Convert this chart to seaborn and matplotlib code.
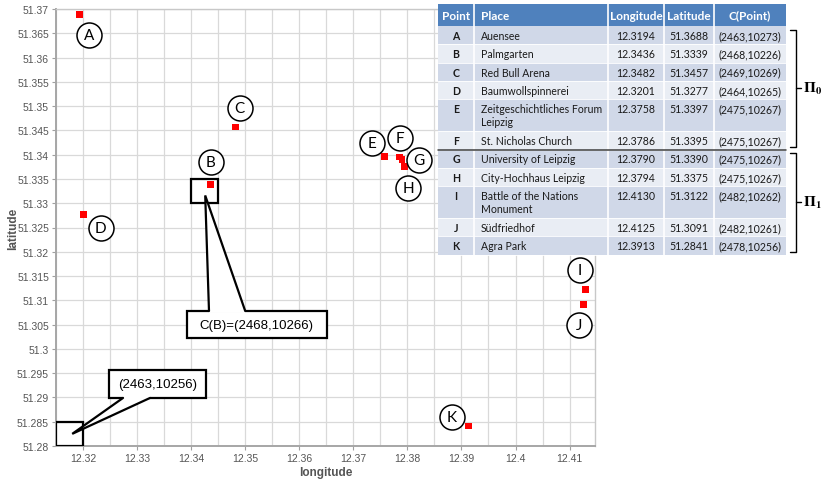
import numpy as np
import pandas as pd
import matplotlib
matplotlib.use("Agg")
import matplotlib.pyplot as plt
import matplotlib.transforms as mtransforms
from matplotlib.patches import Rectangle, Polygon
from matplotlib.ticker import MultipleLocator, FuncFormatter
import seaborn as sns

# ---------------------------------------------------------------- data
points = ["A", "B", "C", "D", "E", "F", "G", "H", "I", "J", "K"]
places = ["Auensee", "Palmgarten", "Red Bull Arena", "Baumwollspinnerei",
          "Zeitgeschichtliches Forum\nLeipzig", "St. Nicholas Church",
          "University of Leipzig", "City-Hochhaus Leipzig",
          "Battle of the Nations\nMonument", "Südfriedhof", "Agra Park"]
longitudes = [12.3194, 12.3436, 12.3482, 12.3201, 12.3758, 12.3786,
              12.3790, 12.3794, 12.4130, 12.4125, 12.3913]
latitudes = [51.3688, 51.3339, 51.3457, 51.3277, 51.3397, 51.3395,
             51.3390, 51.3375, 51.3122, 51.3091, 51.2841]
cell_x = [2463, 2468, 2469, 2464, 2475, 2475, 2475, 2475, 2482, 2482, 2478]
cell_y = [10273, 10226, 10269, 10265, 10267, 10267, 10267, 10267, 10262, 10261, 10256]
groups = ["0"] * 6 + ["1"] * 5
grid_step = 0.005

df = pd.DataFrame({"point": points, "place": places,
                   "longitude": longitudes, "latitude": latitudes,
                   "cx": cell_x, "cy": cell_y, "group": groups})

# ---------------------------------------------------------------- style
sns.set_theme(style="whitegrid")
plt.rcParams["font.family"] = ["Liberation Sans", "DejaVu Sans"]
plt.rcParams["mathtext.fontset"] = "stix"

fig = plt.figure(figsize=(8.21, 4.81), dpi=100)
W, H = 821, 481
ax = fig.add_axes([56 / W, 1 - 447 / H, (595 - 56) / W, (447 - 10) / H])

sns.scatterplot(data=df, x="longitude", y="latitude", marker="s", s=24,
                color="#ff0000", edgecolor="none", linewidth=0, ax=ax, zorder=6)

ax.set_xlim(12.315, 12.4147)
ax.set_ylim(51.28, 51.37)
ax.xaxis.set_major_locator(MultipleLocator(0.01))
ax.xaxis.set_minor_locator(MultipleLocator(grid_step))
ax.yaxis.set_major_locator(MultipleLocator(grid_step))
trim = FuncFormatter(lambda v, p: f"{v:.3f}".rstrip("0").rstrip("."))
ax.xaxis.set_major_formatter(trim)
ax.yaxis.set_major_formatter(trim)
ax.grid(True, which="both", color="#d9d9d9", lw=0.9)
ax.set_axisbelow(True)
ax.set_facecolor("white")
ax.tick_params(axis="both", which="major", labelsize=7.5, labelcolor="#555555",
               length=3, width=0.8, color="#a0a0a0", pad=2, left=True, bottom=True)
ax.tick_params(axis="x", which="minor", length=0)
for s in ("left", "bottom"):
    ax.spines[s].set_color("#a6a6a6")
    ax.spines[s].set_linewidth(1.4)
for s in ("top", "right"):
    ax.spines[s].set_color("#c8c8c8")
    ax.spines[s].set_linewidth(1.0)
ax.set_xlabel("longitude", fontsize=8.5, fontweight="bold", color="#555555", labelpad=2)
ax.set_ylabel("latitude", fontsize=8.5, fontweight="bold", color="#555555")
ax.yaxis.set_label_coords(-0.080, 0.5)
ax.yaxis.label.set_va("center")

# ---------------------------------------------------------------- letter circles
label_offsets = {"A": (6.5, -14.4), "B": (0, 15.8), "C": (2.9, 13.7),
                 "D": (12.2, -10), "E": (-9.4, 9.4), "F": (0, 13.7),
                 "G": (12.2, 0), "H": (2.9, -15.1), "I": (-4.3, 14.4),
                 "J": (-2.9, -14.4), "K": (-12.2, 6.5)}
for p, lon, lat in zip(points, longitudes, latitudes):
    dx, dy = label_offsets[p]
    tr = mtransforms.offset_copy(ax.transData, fig=fig, x=dx, y=dy, units="points")
    ax.plot([lon], [lat], marker="o", ms=18, mfc="white", mec="black",
            mew=1.1, transform=tr, zorder=7, clip_on=False)
    ax.text(lon, lat, p, transform=tr, ha="center", va="center",
            fontsize=11, family=["Lato", "DejaVu Sans"], color="black", zorder=8)


# ---------------------------------------------------------------- grid-cell callouts
def cell_of(lon, lat):
    return (int(np.floor(lon / grid_step + 1e-6)), int(np.floor(lat / grid_step + 1e-6)))


def callout(text, cell, box, base, tip):
    cx0, cy0 = cell[0] * grid_step, cell[1] * grid_step
    ax.add_patch(Rectangle((cx0, cy0), grid_step, grid_step, fill=False,
                           ec="black", lw=1.6, zorder=5))
    (bx0, bx1), (by0, by1) = box
    ax.add_patch(Rectangle((bx0, by0), bx1 - bx0, by1 - by0, fc="white",
                           ec="black", lw=1.6, zorder=9))
    edge_y = by1 if tip[1] > by1 else by0
    inner = 0.0004 if edge_y == by1 else -0.0004
    ax.add_patch(Polygon([(base[0], edge_y - inner), (base[0], edge_y), tip,
                          (base[1], edge_y), (base[1], edge_y - inner)],
                         closed=True, fc="white", ec="none", zorder=10))
    ax.plot([base[0], tip[0], base[1]], [edge_y, tip[1], edge_y],
            color="black", lw=1.6, zorder=11, solid_joinstyle="miter")
    ax.text((bx0 + bx1) / 2, (by0 + by1) / 2, text, ha="center", va="center",
            fontsize=9.5, color="black", zorder=12)


b_idx = points.index("B")
cb = cell_of(longitudes[b_idx], latitudes[b_idx])
callout(f"C(B)=({cb[0]},{cb[1]})", cb,
        box=((12.3392, 12.3651), (51.3022, 51.3078)),
        base=(12.3433, 12.3500),
        tip=(cb[0] * grid_step + 0.0026, cb[1] * grid_step + 0.0016))

c0 = cell_of(12.315, 51.28)
callout(f"({c0[0]},{c0[1]})", c0,
        box=((12.3248, 12.3427), (51.2899, 51.2957)),
        base=(12.3274, 12.3324),
        tip=(c0[0] * grid_step + 0.0030, c0[1] * grid_step + 0.0025))

# ---------------------------------------------------------------- table overlay
tab = fig.add_axes([0, 0, 1, 1], zorder=20)
tab.set_xlim(0, W)
tab.set_ylim(H, 0)
tab.axis("off")
tab.patch.set_alpha(0)

col_edges = [438, 474, 608, 664, 714, 786]
header = ["Point", "Place", "Longitude", "Latitude", "C(Point)"]
tfont = ["Lato", "DejaVu Sans"]
head_top, head_bot = 5, 27
single_h, double_h = 18.3, 32.0

tab.add_patch(Rectangle((col_edges[0], head_top), col_edges[-1] - col_edges[0],
                        head_bot - head_top, fc="#4f81bd", ec="none"))
for i, h in enumerate(header):
    x0, x1 = col_edges[i], col_edges[i + 1]
    if i == 1:
        tab.text(x0 + 7, (head_top + head_bot) / 2, h, ha="left", va="center",
                 color="white", fontsize=8.5, fontweight="bold", family=tfont)
    else:
        tab.text((x0 + x1) / 2, (head_top + head_bot) / 2, h, ha="center", va="center",
                 color="white", fontsize=8.5, fontweight="bold", family=tfont)

row_spans = []
y = head_bot
for k, row in df.iterrows():
    h = double_h if "\n" in row["place"] else single_h
    fc = "#d0d8e8" if k % 2 == 0 else "#e9edf4"
    tab.add_patch(Rectangle((col_edges[0], y), col_edges[-1] - col_edges[0], h,
                            fc=fc, ec="none"))
    ty = y + 4
    vals = [row["point"], row["place"], f"{row['longitude']:.4f}",
            f"{row['latitude']:.4f}", f"({row['cx']},{row['cy']})"]
    for i, v in enumerate(vals):
        x0, x1 = col_edges[i], col_edges[i + 1]
        if i == 1:
            tab.text(x0 + 7, ty, v, ha="left", va="top", fontsize=7.6,
                     color="#1a1a1a", family=tfont, linespacing=1.25)
        else:
            tab.text((x0 + x1) / 2, ty, v, ha="center", va="top", fontsize=7.6,
                     color="#1a1a1a", family=tfont,
                     fontweight="bold" if i == 0 else "normal")
    row_spans.append((y, y + h))
    y += h
    tab.plot([col_edges[0], col_edges[-1]], [y, y], color="white", lw=0.6)

for xe in col_edges[1:-1]:
    tab.plot([xe, xe], [head_top, y], color="white", lw=1.2)

# divider between the two groups
split = groups.index("1")
ysplit = row_spans[split][0]
tab.plot([col_edges[0], col_edges[-1]], [ysplit, ysplit], color="#3f3f3f", lw=1.1)

# group brackets
for g in ("0", "1"):
    idx = [i for i, gg in enumerate(groups) if gg == g]
    y0 = row_spans[idx[0]][0] + 3.5
    y1 = row_spans[idx[-1]][1] - 3
    ym = (y0 + y1) / 2
    tab.plot([790, 796, 796, 790], [y0, y0, y1, y1], color="black", lw=1.0)
    tab.plot([796, 801], [ym, ym], color="black", lw=1.0)
    tab.text(803, ym, rf"$\mathbf{{\Pi}}_{{\mathbf{{{g}}}}}$", ha="left", va="center",
             fontsize=11, color="black")

fig.savefig("out.png", dpi=100)
